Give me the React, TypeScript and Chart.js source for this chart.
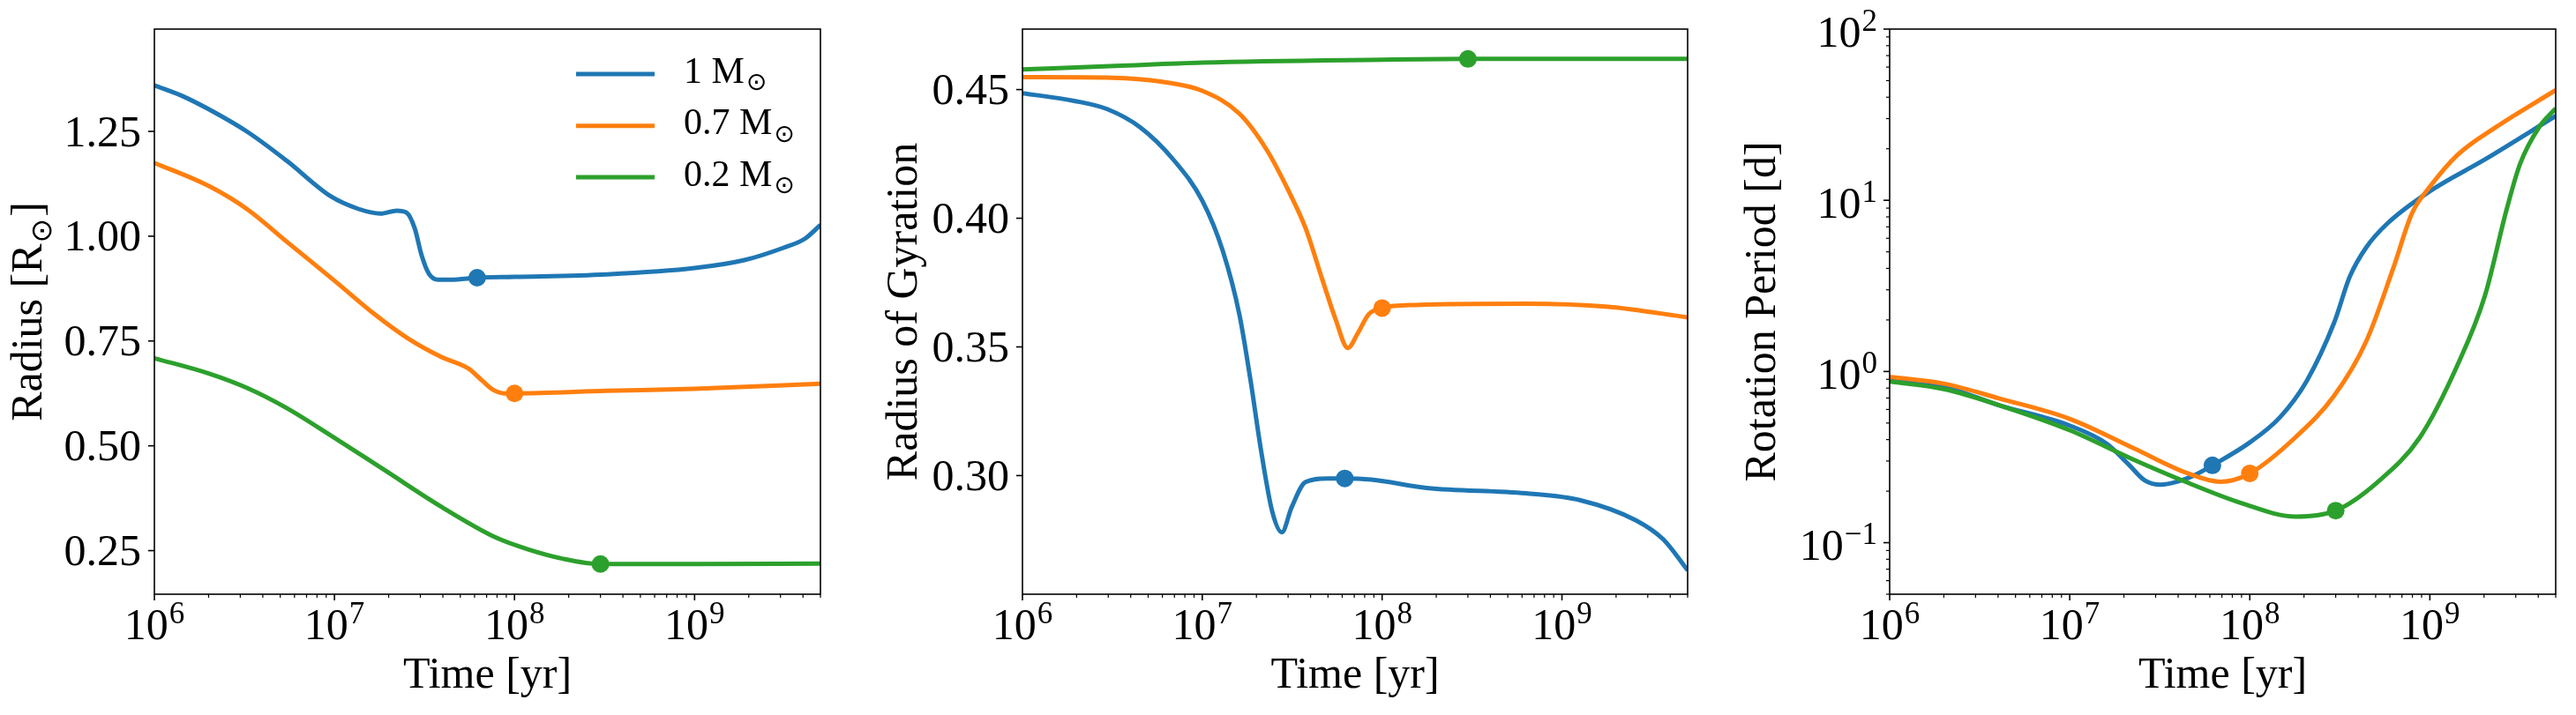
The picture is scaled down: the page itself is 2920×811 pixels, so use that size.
import React, { useEffect, useRef } from "react";
import { Chart, registerables } from "chart.js";

Chart.register(...registerables);

// ---- data -------------------------------------------------------------

const colors = ["#1f77b4", "#ff7f0e", "#2ca02c"];
const massLabels = ["1", "0.7", "0.2"];

// time axis [yr]
const T_MIN = 1e6;
const T_MAX = 5e9;
const timeExponents = [6, 7, 8, 9];

// ZAMS age of each track (marked with a dot)
const zamsAge = [6.2e7, 1e8, 3e8];

// Radius [R_sun]
const radiusT_1 = [1e6, 1.42e6, 2.02e6, 3.31e6, 5.43e6, 9.54e6, 1.36e7, 1.8e7, 2.22e7, 2.52e7, 2.79e7, 3.05e7, 3.35e7, 3.77e7, 4.83e7, 6.2e7, 1e8, 3.24e8, 1e9, 1.89e9, 3.1e9, 4.1e9, 5e9];
const radius_1 = [1.36, 1.335, 1.302, 1.248, 1.18, 1.095, 1.065, 1.054, 1.061, 1.056, 1.019, 0.954, 0.91, 0.896, 0.897, 0.901, 0.903, 0.909, 0.924, 0.943, 0.972, 0.994, 1.027];
const radiusT_07 = [1e6, 2.02e6, 3.31e6, 5.43e6, 1e7, 1.68e7, 2.56e7, 3.91e7, 5.56e7, 6.63e7, 7.64e7, 8.79e7, 1e8, 3.24e8, 1e9, 5e9];
const radius_07 = [1.175, 1.119, 1.063, 0.987, 0.894, 0.813, 0.756, 0.712, 0.684, 0.655, 0.633, 0.625, 0.625, 0.631, 0.636, 0.648];
const radiusT_02 = [1e6, 2.02e6, 3.31e6, 5.43e6, 1e7, 1.93e7, 3.91e7, 7.9e7, 1.21e8, 1.84e8, 3e8, 1e9, 5e9];
const radius_02 = [0.709, 0.672, 0.637, 0.59, 0.519, 0.44, 0.355, 0.281, 0.252, 0.231, 0.218, 0.218, 0.219];
const radiusAtZams = [0.901, 0.625, 0.218];
const radiusTicks = [0.25, 0.5, 0.75, 1.0, 1.25];

// Radius of gyration
const gyrT_1 = [1e6, 1.94e6, 2.96e6, 4.52e6, 6.9e6, 1e7, 1.3e7, 1.61e7, 1.85e7, 2.13e7, 2.45e7, 2.77e7, 3.14e7, 3.75e7, 4.97e7, 6.2e7, 8.73e7, 1.77e8, 6.3e8, 1.27e9, 2.58e9, 3.66e9, 5e9];
const gyr_1 = [0.4486, 0.4456, 0.4424, 0.4353, 0.4228, 0.4068, 0.3873, 0.3624, 0.3375, 0.3091, 0.286, 0.278, 0.2877, 0.2975, 0.2989, 0.2989, 0.2984, 0.2952, 0.2931, 0.2904, 0.2826, 0.2752, 0.2632];
const gyrT_07 = [1e6, 3.18e6, 6e6, 1e7, 1.61e7, 2.29e7, 3.03e7, 3.75e7, 4.63e7, 5.52e7, 6.45e7, 7.32e7, 8.43e7, 1e8, 1.53e8, 6.3e8, 1.81e9, 5e9];
const gyr_07 = [0.4548, 0.4546, 0.453, 0.4495, 0.4406, 0.4264, 0.4104, 0.3962, 0.3766, 0.3606, 0.3496, 0.3553, 0.3627, 0.3651, 0.3663, 0.3668, 0.3656, 0.3615];
const gyrT_02 = [1e6, 3.3e6, 1e7, 1e8, 3e8, 5e9];
const gyr_02 = [0.4578, 0.4592, 0.4605, 0.4616, 0.4619, 0.4619];
const gyrAtZams = [0.2989, 0.3651, 0.4619];
const gyrTicks = [0.3, 0.35, 0.4, 0.45];

// Rotation period [d]
const rotT_1 = [1e6, 2.02e6, 4.04e6, 1e7, 1.61e7, 2.12e7, 2.61e7, 3.21e7, 3.95e7, 4.86e7, 6.2e7, 1e8, 1.47e8, 2.07e8, 2.93e8, 3.6e8, 4.43e8, 5.84e8, 1e9, 2.02e9, 5e9];
const rot_1 = [0.906, 0.813, 0.636, 0.483, 0.378, 0.287, 0.231, 0.218, 0.227, 0.246, 0.283, 0.385, 0.54, 0.88, 1.91, 3.6, 5.3, 7.36, 11.3, 17.3, 31.1];
const rotT_07 = [1e6, 2.02e6, 4.04e6, 1e7, 2.27e7, 4.53e7, 6.86e7, 1e8, 1.8e8, 2.93e8, 4.43e8, 6.25e8, 7.96e8, 1e9, 1.43e9, 2.32e9, 5e9];
const rot_07 = [0.929, 0.847, 0.697, 0.529, 0.356, 0.254, 0.227, 0.254, 0.414, 0.718, 1.5, 3.99, 8.4, 12.0, 18.5, 26.7, 44.0];
const rotT_02 = [1e6, 2.02e6, 4.04e6, 1e7, 2.27e7, 4.53e7, 9.04e7, 1.8e8, 3e8, 5.08e8, 8.83e8, 1.43e9, 2.02e9, 2.67e9, 3.17e9, 4.04e9, 5e9];
const rot_02 = [0.873, 0.787, 0.636, 0.454, 0.305, 0.224, 0.17, 0.142, 0.154, 0.224, 0.414, 1.1, 2.76, 8.85, 16.3, 26.7, 34.4];
const rotAtZams = [0.283, 0.254, 0.154];
const rotExponents = [-1, 0, 1, 2];

// ---- drawing helpers ----------------------------------------------------

const SERIF = '"Liberation Serif", "DejaVu Serif", serif';
const F_TICK = `50px ${SERIF}`;
const F_EXP = `35px ${SERIF}`;
const F_LABEL = `50px ${SERIF}`;
const F_LEGEND = `42px ${SERIF}`;
const F_SUN_LABEL = `33px "DejaVu Sans"`;
const F_SUN_LEGEND = `28px "DejaVu Sans"`;

const H = 811;
const PLOT_TOP = 33;
const PLOT_BOTTOM = 674;

type Run = { text: string; font: string; dy?: number; gap?: number; inkCenter?: number };

function drawRuns(ctx: CanvasRenderingContext2D, runs: Run[], x: number, y: number, align: "left" | "center" | "right") {
  ctx.save();
  ctx.textAlign = "left";
  ctx.textBaseline = "alphabetic";
  ctx.fillStyle = "#000";
  const widths = runs.map((r) => {
    ctx.font = r.font;
    return ctx.measureText(r.text).width;
  });
  const total = widths.reduce((a, w, i) => a + w + (runs[i].gap || 0), 0);
  let cx = align === "left" ? x : align === "center" ? x - total / 2 : x - total;
  runs.forEach((r, i) => {
    cx += r.gap || 0;
    ctx.font = r.font;
    let by = y + (r.dy || 0);
    if (r.inkCenter !== undefined) {
      const m = ctx.measureText(r.text);
      by = y + r.inkCenter + (m.actualBoundingBoxAscent - m.actualBoundingBoxDescent) / 2;
    }
    ctx.fillText(r.text, cx, by);
    cx += widths[i];
  });
  ctx.restore();
}

function powerRuns(exp: number): Run[] {
  const e = exp < 0 ? "\u2212" + Math.abs(exp) : String(exp);
  return [
    { text: "10", font: F_TICK },
    { text: e, font: F_EXP, dy: -18, gap: 1 },
  ];
}

function logMinorValues(lo: number, hi: number, eMin: number, eMax: number) {
  const out: number[] = [];
  for (let e = eMin; e <= eMax; e++) {
    for (let m = 2; m <= 9; m++) {
      const v = m * Math.pow(10, e);
      if (v >= lo * 0.9999 && v <= hi * 1.0001) out.push(v);
    }
  }
  return out;
}

type Series = { t: number[]; v: number[] };

type PanelSpec = {
  canvasLeft: number;
  canvasWidth: number;
  plotLeft: number;
  plotRight: number;
  yType: "linear" | "logarithmic";
  yMin: number;
  yMax: number;
  linearTicks?: number[];
  logExponents?: number[];
  yTitle: Run[];
  yTitleBaseline: number;
  series: Series[];
  zamsValues: number[];
  legend?: boolean;
};

const panels: PanelSpec[] = [
  {
    canvasLeft: 0,
    canvasWidth: 980,
    plotLeft: 175,
    plotRight: 930,
    yType: "linear",
    yMin: 0.146,
    yMax: 1.494,
    linearTicks: radiusTicks,
    yTitle: [
      { text: "Radius [R", font: F_LABEL },
      { text: "\u2299", font: F_SUN_LABEL, inkCenter: 0, gap: 1 },
      { text: "]", font: F_LABEL, gap: 2 },
    ],
    yTitleBaseline: 47,
    series: [
      { t: radiusT_1, v: radius_1 },
      { t: radiusT_07, v: radius_07 },
      { t: radiusT_02, v: radius_02 },
    ],
    zamsValues: radiusAtZams,
    legend: true,
  },
  {
    canvasLeft: 980,
    canvasWidth: 980,
    plotLeft: 1159,
    plotRight: 1913,
    yType: "linear",
    yMin: 0.2539,
    yMax: 0.4735,
    linearTicks: gyrTicks,
    yTitle: [{ text: "Radius of Gyration", font: F_LABEL }],
    yTitleBaseline: 1039,
    series: [
      { t: gyrT_1, v: gyr_1 },
      { t: gyrT_07, v: gyr_07 },
      { t: gyrT_02, v: gyr_02 },
    ],
    zamsValues: gyrAtZams,
  },
  {
    canvasLeft: 1960,
    canvasWidth: 960,
    plotLeft: 2142,
    plotRight: 2897,
    yType: "logarithmic",
    yMin: 0.05,
    yMax: 100,
    logExponents: rotExponents,
    yTitle: [{ text: "Rotation Period [d]", font: F_LABEL }],
    yTitleBaseline: 2012,
    series: [
      { t: rotT_1, v: rot_1 },
      { t: rotT_07, v: rot_07 },
      { t: rotT_02, v: rot_02 },
    ],
    zamsValues: rotAtZams,
  },
];

function makeAxesPlugin(spec: PanelSpec) {
  return {
    id: "framedAxes",
    afterDraw(chart: any) {
      const ctx: CanvasRenderingContext2D = chart.ctx;
      const { left, right, top, bottom } = chart.chartArea;
      const xs = chart.scales.x;
      const ys = chart.scales.y;
      ctx.save();
      ctx.strokeStyle = "#000";
      ctx.lineCap = "butt";

      // frame
      ctx.lineWidth = 1.6;
      ctx.strokeRect(left, top, right - left, bottom - top);

      const tick = (x1: number, y1: number, x2: number, y2: number, w: number) => {
        ctx.lineWidth = w;
        ctx.beginPath();
        ctx.moveTo(x1, y1);
        ctx.lineTo(x2, y2);
        ctx.stroke();
      };

      // x ticks
      for (const e of timeExponents) {
        const px = xs.getPixelForValue(Math.pow(10, e));
        tick(px, bottom, px, bottom + 7, 1.6);
        drawRuns(ctx, powerRuns(e), px, 725, "center");
      }
      for (const v of logMinorValues(T_MIN, T_MAX, 6, 9)) {
        const px = xs.getPixelForValue(v);
        tick(px, bottom, px, bottom + 4, 1.2);
      }

      // y ticks
      if (spec.linearTicks) {
        for (const v of spec.linearTicks) {
          const py = ys.getPixelForValue(v);
          tick(left, py, left - 7, py, 1.6);
          drawRuns(ctx, [{ text: v.toFixed(2), font: F_TICK }], left - 15, py + 16.5, "right");
        }
      }
      if (spec.logExponents) {
        for (const e of spec.logExponents) {
          const py = ys.getPixelForValue(Math.pow(10, e));
          tick(left, py, left - 7, py, 1.6);
          drawRuns(ctx, powerRuns(e), left - 14, py + 19.5, "right");
        }
        for (const v of logMinorValues(spec.yMin, spec.yMax, -2, 1)) {
          const py = ys.getPixelForValue(v);
          tick(left, py, left - 4, py, 1.2);
        }
      }

      // axis titles
      drawRuns(ctx, [{ text: "Time [yr]", font: F_LABEL }], (left + right) / 2, 780, "center");
      ctx.save();
      ctx.translate(spec.yTitleBaseline - spec.canvasLeft, (top + bottom) / 2);
      ctx.rotate(-Math.PI / 2);
      drawRuns(ctx, spec.yTitle, 0, 0, "center");
      ctx.restore();

      // legend
      if (spec.legend) {
        const rows = [84, 142.7, 201];
        rows.forEach((ry, i) => {
          ctx.strokeStyle = colors[i];
          ctx.lineWidth = 5;
          ctx.beginPath();
          ctx.moveTo(653, ry);
          ctx.lineTo(742, ry);
          ctx.stroke();
          drawRuns(
            ctx,
            [
              { text: `${massLabels[i]} M`, font: F_LEGEND },
              { text: "\u2299", font: F_SUN_LEGEND, inkCenter: 0, gap: 2 },
            ],
            775,
            ry + 9.5,
            "left"
          );
        });
      }
      ctx.restore();
    },
  };
}

function buildConfig(spec: PanelSpec): any {
  const lines = spec.series.map((s, i) => ({
    type: "line",
    label: `${massLabels[i]} Msun`,
    data: s.t.map((t, k) => ({ x: t, y: s.v[k] })),
    borderColor: colors[i],
    backgroundColor: colors[i],
    borderWidth: 5,
    borderJoinStyle: "round",
    pointRadius: 0,
    fill: false,
    cubicInterpolationMode: "monotone",
    order: 3 - i,
  }));
  const dots = spec.zamsValues.map((v, i) => ({
    type: "line",
    label: `${massLabels[i]} Msun ZAMS`,
    data: [{ x: zamsAge[i], y: v }],
    showLine: false,
    pointRadius: 10,
    pointBorderWidth: 0,
    pointBackgroundColor: colors[i],
    pointBorderColor: colors[i],
    order: 0,
  }));
  return {
    type: "line",
    data: { datasets: [...lines, ...dots] },
    options: {
      animation: false,
      responsive: false,
      devicePixelRatio: 1,
      events: [],
      layout: {
        padding: {
          left: spec.plotLeft - spec.canvasLeft,
          right: spec.canvasLeft + spec.canvasWidth - spec.plotRight,
          top: PLOT_TOP,
          bottom: H - PLOT_BOTTOM,
        },
      },
      scales: {
        x: { type: "logarithmic", min: T_MIN, max: T_MAX, display: false },
        y: { type: spec.yType, min: spec.yMin, max: spec.yMax, display: false },
      },
      plugins: {
        legend: { display: false },
        tooltip: { enabled: false },
      },
    },
    plugins: [makeAxesPlugin(spec)],
  };
}

function Panel({ spec }: { spec: PanelSpec }) {
  const ref = useRef<HTMLCanvasElement>(null);
  useEffect(() => {
    if (!ref.current) return;
    const chart = new Chart(ref.current, buildConfig(spec));
    const fonts: any = (document as any).fonts;
    if (fonts && fonts.ready) fonts.ready.then(() => chart.draw());
    return () => chart.destroy();
  }, [spec]);
  return (
    <canvas
      ref={ref}
      width={spec.canvasWidth}
      height={H}
      style={{ position: "absolute", left: spec.canvasLeft, top: 0, width: spec.canvasWidth, height: H }}
    />
  );
}

export default function App() {
  return (
    <div style={{ position: "fixed", left: 0, top: 0, width: 2920, height: H, background: "#fff", overflow: "hidden" }}>
      {panels.map((p, i) => (
        <Panel key={i} spec={p} />
      ))}
    </div>
  );
}
